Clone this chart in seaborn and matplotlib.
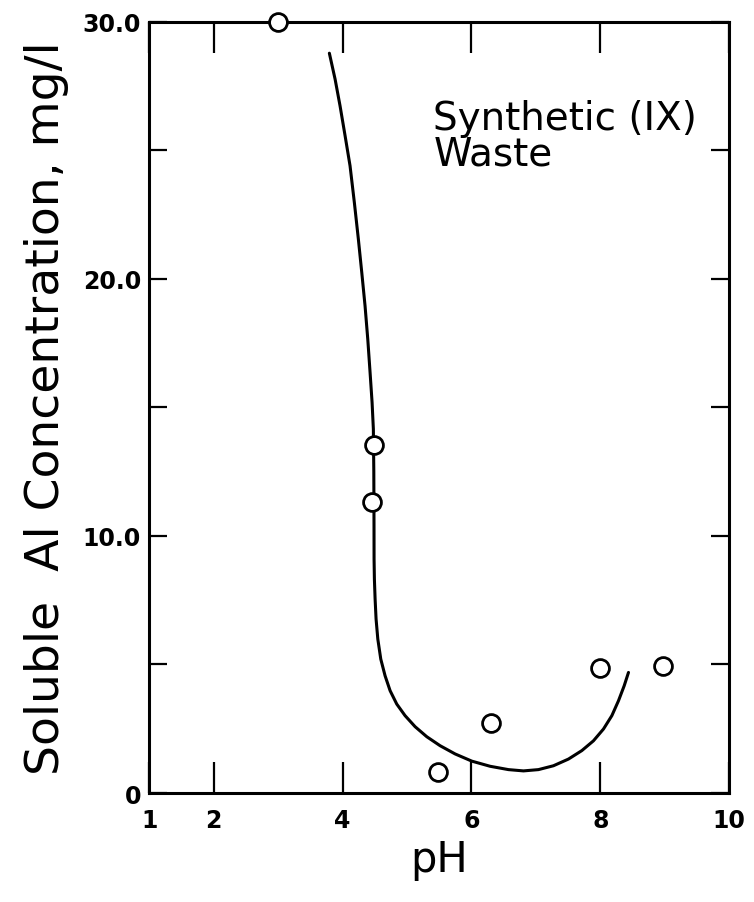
import matplotlib
matplotlib.use("Agg")
import matplotlib.pyplot as plt
import seaborn as sns
import pandas as pd

# Measured data points (pH, soluble Al mg/l)
ph_points = [3.0, 4.49, 4.46, 5.48, 6.30, 8.00, 8.98]
al_points = [30.0, 13.55, 11.31, 0.80, 2.72, 4.85, 4.95]

# Hand-drawn smooth curve
curve_ph = [3.795, 3.884, 3.961, 4.039, 4.116, 4.183, 4.245, 4.298, 4.349,
            4.391, 4.427, 4.458, 4.478, 4.485, 4.488,
            4.489, 4.494, 4.505, 4.520, 4.547, 4.593, 4.660, 4.738, 4.841,
            4.970, 5.126, 5.307, 5.514, 5.747, 6.006, 6.290, 6.575, 6.808,
            7.040, 7.273, 7.506, 7.714, 7.894, 8.050, 8.180, 8.283, 8.371,
            8.438]
curve_al = [28.78, 27.77, 26.73, 25.57, 24.40, 22.97, 21.55, 20.25, 18.95,
            17.66, 16.36, 15.20, 14.16, 12.50, 10.40,
            9.10, 8.32, 7.55, 6.77, 5.99, 5.21, 4.56, 3.98, 3.46,
            3.01, 2.58, 2.19, 1.84, 1.52, 1.24, 1.04, 0.91, 0.86,
            0.91, 1.06, 1.32, 1.65, 2.03, 2.49, 3.01, 3.59, 4.17,
            4.69]

x_ticks = [1, 2, 4, 6, 8, 10]
x_ticklabels = ["1", "2", "4", "6", "8", "10"]
y_ticks = [0, 5, 10, 15, 20, 25, 30]
y_ticklabels = ["0", "", "10.0", "", "20.0", "", "30.0"]

sns.set_style("white")
plt.rcParams["font.family"] = ["DejaVu Sans"]
plt.rcParams["text.color"] = "black"
plt.rcParams["axes.labelcolor"] = "black"

fig = plt.figure(figsize=(7.54, 9.03), dpi=100)
ax = fig.add_axes([0.198, 0.1207, 0.769, 0.854])

curve_df = pd.DataFrame({"pH": curve_ph, "Al": curve_al})
pts_df = pd.DataFrame({"pH": ph_points, "Al": al_points})

sns.lineplot(data=curve_df, x="pH", y="Al", sort=False, color="black",
             linewidth=2.2, ax=ax, estimator=None)
sns.scatterplot(data=pts_df, x="pH", y="Al", s=165, facecolor="white",
                edgecolor="black", linewidth=2.0, ax=ax, zorder=5, clip_on=False)

ax.set_xlim(1, 10)
ax.set_ylim(0, 30)

for sp in ax.spines.values():
    sp.set_visible(True)
    sp.set_linewidth(2.2)
    sp.set_color("black")

ax.set_xticks(x_ticks)
ax.set_xticklabels(x_ticklabels, fontsize=17, fontweight="bold")
ax.set_yticks(y_ticks)
ax.set_yticklabels(y_ticklabels, fontsize=17, fontweight="bold")

ax.tick_params(axis="x", direction="in", length=22, width=1.6, top=True,
               bottom=True, pad=11, colors="black")
ax.tick_params(axis="y", direction="in", length=13, width=1.6, left=True,
               right=True, pad=6, colors="black")

ax.set_xlabel("pH", fontsize=30, labelpad=4)
ax.set_ylabel("Soluble  Al Concentration, mg/l", fontsize=34, labelpad=10)

ax.text(5.41, 27.0, "Synthetic (IX)\nWaste", fontsize=28, ha="left", va="top",
        linespacing=0.92, color="black")

fig.savefig("out.png", dpi=100)
